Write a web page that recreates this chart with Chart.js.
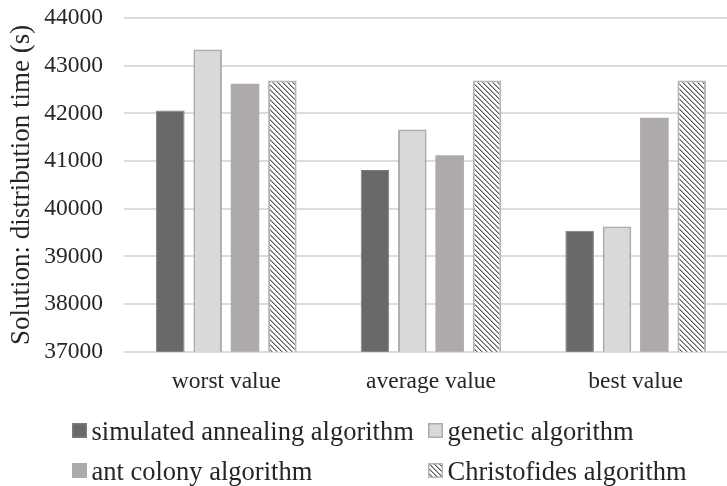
<!DOCTYPE html>
<html>
<head>
<meta charset="utf-8">
<script src="https://cdn.jsdelivr.net/npm/chart.js@4/dist/chart.umd.min.js"></script>
<style>
  html, body { margin: 0; padding: 0; background: #fff; overflow: hidden; width: 727px; height: 486px; }
  #wrap { position: relative; width: 745px; height: 486px; }
  canvas { display: block; }
</style>
</head>
<body>
<div id="wrap"><canvas id="c" width="745" height="486"></canvas></div>
<script>
// Categories, series and axis ticks
const categories = ['worst value', 'average value', 'best value'];
const seriesNames = ['simulated annealing algorithm', 'genetic algorithm', 'ant colony algorithm', 'Christofides algorithm'];
const simulatedAnnealing = [42060, 40810, 39540];
const geneticAlgorithm = [43340, 41660, 39630];
const antColony = [42620, 41120, 41910];
const christofides = [42690, 42690, 42690];
const yTicks = [37000, 38000, 39000, 40000, 41000, 42000, 43000, 44000];
const yAxisTitle = 'Solution: distribution time (s)';

const SERIF = '"Liberation Serif", "Times New Roman", serif';
const TEXT = '#262626';

// Downward diagonal hatch fill
function makeHatch() {
  const n = 5;
  const t = document.createElement('canvas');
  t.width = n; t.height = n;
  const g = t.getContext('2d');
  g.fillStyle = '#ffffff';
  g.fillRect(0, 0, n, n);
  for (let y = 0; y < n; y++) {
    g.fillStyle = '#5c5c5c';
    g.fillRect(y % n, y, 1, 1);
    g.fillStyle = '#a8a8a8';
    g.fillRect((y + 1) % n, y, 1, 1);
  }
  return g.createPattern(t, 'repeat');
}
const hatch = makeHatch();

// Two-column legend below the plot
const gridLegend = {
  id: 'gridLegend',
  afterDraw(chart, args, opts) {
    const ctx = chart.ctx;
    ctx.save();
    ctx.font = opts.font;
    ctx.textBaseline = 'alphabetic';
    ctx.textAlign = 'left';
    chart.data.datasets.forEach((ds, i) => {
      const x = opts.columns[i % 2];
      const base = opts.rows[Math.floor(i / 2)];
      const s = opts.boxSize;
      const top = base - s - 2;
      ctx.fillStyle = ds.backgroundColor;
      ctx.fillRect(x, top, s, s);
      if (ds.borderWidth) {
        ctx.strokeStyle = ds.borderColor;
        ctx.lineWidth = 1.5;
        ctx.strokeRect(x + 0.75, top + 0.75, s - 1.5, s - 1.5);
      }
      ctx.fillStyle = opts.color;
      ctx.fillText(ds.label, x + s + opts.gap, base);
    });
    ctx.restore();
  }
};

const bars = { categoryPercentage: 0.73, barPercentage: 0.764, borderSkipped: false };

new Chart(document.getElementById('c'), {
  type: 'bar',
  data: {
    labels: categories,
    datasets: [
      Object.assign({ label: seriesNames[0], data: simulatedAnnealing, backgroundColor: '#696969', borderColor: '#7c7c7c', borderWidth: 1 }, bars),
      Object.assign({ label: seriesNames[1], data: geneticAlgorithm, backgroundColor: '#d9d9d9', borderColor: '#acacac', borderWidth: 2 }, bars),
      Object.assign({ label: seriesNames[2], data: antColony, backgroundColor: '#aeaaaa', borderColor: '#aeaaaa', borderWidth: 0 }, bars),
      Object.assign({ label: seriesNames[3], data: christofides, backgroundColor: hatch, borderColor: '#b4b4b4', borderWidth: 2 }, bars)
    ]
  },
  options: {
    responsive: false,
    animation: false,
    layout: { padding: { top: 18, right: 7, bottom: 74, left: 0 } },
    plugins: {
      legend: { display: false },
      tooltip: { enabled: false },
      gridLegend: {
        font: '26.5px ' + SERIF,
        color: TEXT,
        columns: [72, 428],
        rows: [440, 480],
        boxSize: 15,
        gap: 4.5
      }
    },
    scales: {
      x: {
        grid: { display: false, drawTicks: false },
        border: { display: false },
        ticks: { color: TEXT, padding: 16, font: { family: SERIF, size: 23.5 } }
      },
      y: {
        min: yTicks[0],
        max: yTicks[yTicks.length - 1],
        afterBuildTicks(scale) { scale.ticks = yTicks.map(v => ({ value: v })); },
        afterFit(scale) {
          scale.width = 124;
          scale.paddingTop = 0;
          scale.paddingBottom = 0;
        },
        grid: { color: '#dcdcdc', lineWidth: 2, drawTicks: false },
        border: { display: false },
        ticks: { color: TEXT, padding: 21, font: { family: SERIF, size: 23.5 }, callback: v => String(v) },
        title: {
          display: true,
          text: yAxisTitle,
          color: TEXT,
          font: { family: SERIF, size: 27, lineHeight: 1 },
          padding: { top: 8, bottom: 0 }
        }
      }
    }
  },
  plugins: [gridLegend]
});
</script>
</body>
</html>
